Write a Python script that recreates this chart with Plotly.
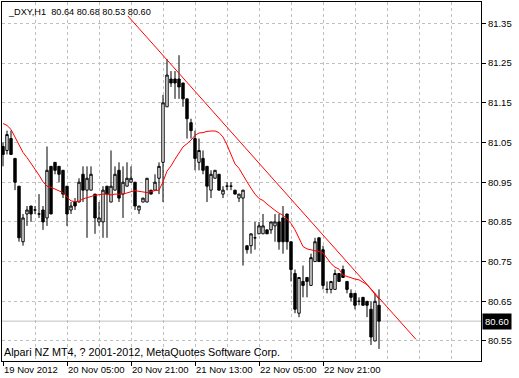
import plotly.graph_objects as go

# ---------------- data ----------------
bar_index = list(range(95))

opens = [81.04, 81.03, 81.06, 81.01, 80.94, 80.80, 80.87, 80.89, 80.88, 80.87,
         80.88, 80.86, 80.99, 81.00, 80.99, 80.98, 80.94, 80.88, 80.90, 80.90,
         80.97, 80.93, 80.93, 80.92, 80.85, 80.85, 80.94, 80.90, 80.93, 80.98,
         80.92, 80.94, 80.95, 80.95, 80.88, 80.90, 80.90, 80.93, 80.93, 80.96,
         81.00, 81.14, 81.21, 81.21, 81.21, 81.20, 81.16, 81.10, 81.06, 81.00,
         81.01, 80.99, 80.93, 80.96, 80.97, 80.92, 80.94, 80.94, 80.93, 80.91,
         80.91, 80.79, 80.79, 80.81, 80.82, 80.82, 80.83, 80.83, 80.84, 80.85,
         80.86, 80.87, 80.80, 80.72, 80.62, 80.70, 80.71, 80.69, 80.75, 80.81,
         80.78, 80.68, 80.68, 80.68, 80.72, 80.73, 80.70, 80.67, 80.67, 80.65,
         80.66, 80.65, 80.63, 80.55, 80.64]

highs = [81.05, 81.08, 81.08, 81.01, 80.94, 80.87, 80.89, 80.89, 80.89, 80.92,
         80.89, 81.04, 80.99, 81.00, 80.99, 80.98, 80.94, 80.90, 80.91, 80.96,
         80.99, 80.99, 80.99, 80.92, 80.90, 80.94, 80.94, 81.03, 80.99, 81.00,
         80.99, 81.00, 80.99, 80.95, 80.89, 80.91, 80.96, 80.93, 80.97, 81.00,
         81.17, 81.26, 81.23, 81.23, 81.27, 81.20, 81.16, 81.11, 81.08, 81.06,
         81.03, 80.99, 80.98, 80.98, 80.97, 80.94, 80.95, 80.95, 80.93, 80.92,
         80.93, 80.79, 80.82, 80.85, 80.85, 80.87, 80.83, 80.85, 80.87, 80.87,
         80.89, 80.87, 80.80, 80.73, 80.71, 80.74, 80.71, 80.77, 80.81, 80.81,
         80.79, 80.70, 80.70, 80.73, 80.72, 80.74, 80.70, 80.68, 80.67, 80.66,
         80.66, 80.65, 80.65, 80.67, 80.68]

lows = [80.99, 81.02, 81.02, 80.93, 80.80, 80.79, 80.84, 80.85, 80.87, 80.86,
        80.83, 80.84, 80.87, 80.97, 80.95, 80.91, 80.84, 80.87, 80.88, 80.90,
        80.90, 80.81, 80.93, 80.82, 80.84, 80.81, 80.81, 80.90, 80.93, 80.90,
        80.86, 80.94, 80.95, 80.88, 80.87, 80.90, 80.90, 80.92, 80.93, 80.92,
        80.90, 81.14, 81.19, 81.16, 81.16, 81.14, 81.06, 81.06, 80.98, 80.98,
        80.97, 80.90, 80.91, 80.96, 80.93, 80.91, 80.93, 80.93, 80.92, 80.90,
        80.74, 80.77, 80.77, 80.78, 80.82, 80.82, 80.82, 80.82, 80.80, 80.78,
        80.77, 80.78, 80.70, 80.62, 80.61, 80.66, 80.66, 80.69, 80.75, 80.75,
        80.68, 80.67, 80.67, 80.68, 80.70, 80.71, 80.67, 80.65, 80.63, 80.64,
        80.64, 80.61, 80.54, 80.55, 80.53]

closes = [81.02, 81.07, 81.02, 80.95, 80.81, 80.86, 80.88, 80.87, 80.88, 80.87,
          80.85, 80.98, 80.87, 80.98, 80.97, 80.92, 80.87, 80.89, 80.89, 80.95,
          80.93, 80.96, 80.97, 80.86, 80.86, 80.93, 80.92, 80.94, 80.97, 80.91,
          80.95, 80.96, 80.96, 80.89, 80.89, 80.91, 80.96, 80.92, 80.95, 80.99,
          81.15, 81.22, 81.20, 81.20, 81.19, 81.16, 81.11, 81.08, 81.01, 81.03,
          80.98, 80.94, 80.97, 80.98, 80.93, 80.93, 80.94, 80.94, 80.92, 80.92,
          80.93, 80.78, 80.82, 80.81, 80.84, 80.84, 80.82, 80.85, 80.85, 80.80,
          80.80, 80.80, 80.73, 80.63, 80.71, 80.69, 80.70, 80.76, 80.80, 80.75,
          80.69, 80.68, 80.70, 80.72, 80.70, 80.71, 80.68, 80.66, 80.64, 80.65,
          80.64, 80.64, 80.56, 80.65, 80.60]

ma_values = [81.098, 81.093, 81.083, 81.063, 81.041, 81.025, 81.012, 80.998, 80.985, 80.968,
             80.951, 80.940, 80.937, 80.933, 80.930, 80.924, 80.913, 80.903, 80.901, 80.902,
             80.908, 80.912, 80.914, 80.917, 80.919, 80.920, 80.920, 80.918, 80.920, 80.920,
             80.920, 80.923, 80.926, 80.929, 80.927, 80.926, 80.924, 80.926, 80.929, 80.930,
             80.951, 80.978, 80.991, 81.008, 81.024, 81.039, 81.047, 81.056, 81.068, 81.074,
             81.075, 81.078, 81.079, 81.079, 81.075, 81.064, 81.044, 81.019, 80.996, 80.985,
             80.967, 80.951, 80.935, 80.920, 80.909, 80.904, 80.895, 80.886, 80.879, 80.872,
             80.867, 80.857, 80.846, 80.830, 80.809, 80.788, 80.782, 80.780, 80.778, 80.775,
             80.772, 80.759, 80.745, 80.736, 80.731, 80.716, 80.712, 80.709, 80.706, 80.704,
             80.699, 80.692, 80.680, 80.666, 80.655]

trend_index = [31.2, 103.25]
trend_price = [81.369, 80.554]

y_tick_values = [80.55, 80.65, 80.75, 80.85, 80.95, 81.05, 81.15, 81.25, 81.35]
y_tick_labels = ["80.55", "80.65", "80.75", "80.85", "80.95", "81.05", "81.15", "81.25", "81.35"]

x_label_index = [0, 16, 32, 48, 64, 80]
x_labels = ["19 Nov 2012", "20 Nov 05:00", "20 Nov 21:00",
            "21 Nov 13:00", "22 Nov 05:00", "22 Nov 21:00"]
x_grid_index = [8, 16, 24, 32, 40, 48, 56, 64, 72, 80, 88, 96, 104, 112]

title_text = "_DXY,H1  80.64 80.68 80.53 80.60"
copyright_text = "Alpari NZ MT4, ? 2001-2012, MetaQuotes Software Corp."
last_price = 80.60
last_price_label = "80.60"

x_range = [-0.25, 119.5]
y_range = [80.4996, 81.404]

# ---------------- figure ----------------
FONT = "Liberation Sans, Arial, sans-serif"
GRID = "#c0c0c0"

fig = go.Figure()

fig.add_trace(go.Candlestick(
    x=bar_index, open=opens, high=highs, low=lows, close=closes,
    increasing=dict(line=dict(color="black", width=1), fillcolor="white"),
    decreasing=dict(line=dict(color="black", width=1), fillcolor="black"),
    whiskerwidth=0, showlegend=False, hoverinfo="skip",
))

fig.add_trace(go.Scatter(
    x=bar_index, y=ma_values, mode="lines",
    line=dict(color="#ff0000", width=1), showlegend=False, hoverinfo="skip",
))

fig.add_trace(go.Scatter(
    x=trend_index, y=trend_price, mode="lines",
    line=dict(color="#ff0000", width=1), showlegend=False, hoverinfo="skip",
))

fig.add_shape(type="line", xref="paper", x0=0, x1=1, yref="y",
              y0=last_price, y1=last_price,
              line=dict(color=GRID, width=1), layer="below")

fig.update_layout(
    width=519, height=378,
    margin=dict(l=2, r=38, t=2, b=17, pad=0, autoexpand=False),
    paper_bgcolor="white", plot_bgcolor="white",
    font=dict(family=FONT, size=9, color="black"),
    showlegend=False,
    boxgap=0.15,
    xaxis=dict(
        range=x_range, rangeslider=dict(visible=False),
        tickmode="array", tickvals=x_label_index, ticktext=x_labels,
        ticklabelposition="outside right", tickangle=0, automargin=False,
        ticks="outside", ticklen=4, tickcolor="black",
        tickfont=dict(family=FONT, size=9.5, color="black"),
        showgrid=True, gridcolor=GRID, griddash="3px,3px", gridwidth=1,
        minor=dict(tickvals=x_grid_index, showgrid=True, gridcolor=GRID,
                   griddash="3px,3px", gridwidth=1, ticks=""),
        showline=True, linecolor="black", linewidth=1, mirror=True,
        zeroline=False, fixedrange=True,
    ),
    yaxis=dict(
        range=y_range, side="right", automargin=False,
        tickmode="array", tickvals=y_tick_values, ticktext=y_tick_labels,
        ticks="outside", ticklen=4, tickcolor="black",
        tickfont=dict(family=FONT, size=9.5, color="black"),
        showgrid=True, gridcolor=GRID, griddash="3px,3px", gridwidth=1,
        showline=True, linecolor="black", linewidth=1, mirror=True,
        zeroline=False, fixedrange=True,
    ),
    annotations=[
        dict(text=title_text, xref="paper", yref="paper", x=0, y=1,
             xanchor="left", yanchor="top", xshift=4, yshift=-3, showarrow=False,
             font=dict(family=FONT, size=9.2, color="black")),
        dict(text=copyright_text, xref="paper", yref="paper", x=0, y=0,
             xanchor="left", yanchor="bottom", xshift=0, yshift=1, showarrow=False,
             font=dict(family=FONT, size=10.8, color="black")),
        dict(text=last_price_label, xref="paper", yref="y", x=1, y=last_price,
             xanchor="left", yanchor="middle", xshift=1, showarrow=False,
             bgcolor="black", borderpad=2,
             font=dict(family=FONT, size=9.5, color="white")),
    ],
)

fig.write_html("out.html", config={"displayModeBar": False},
               post_script="document.body.style.margin='0';document.body.style.overflow='hidden';")
